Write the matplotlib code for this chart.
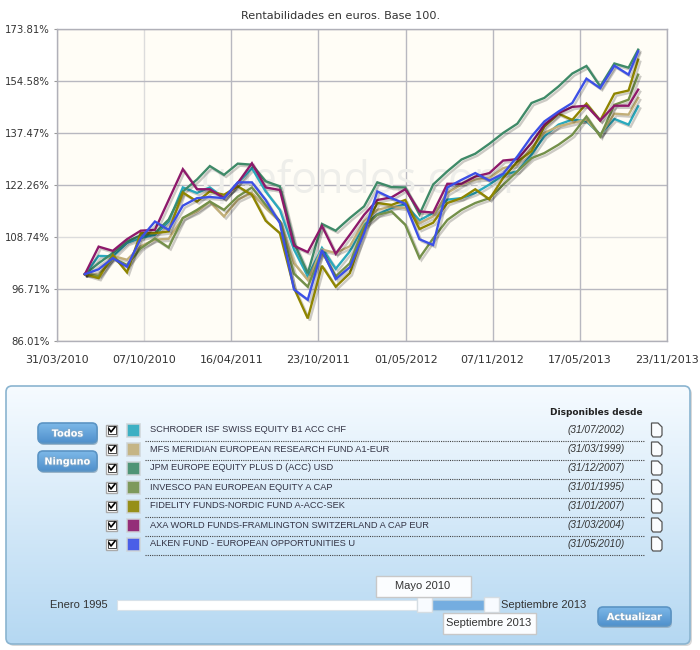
import numpy as np
import pandas as pd
import matplotlib
matplotlib.use('Agg')
import matplotlib.pyplot as plt
import matplotlib.dates as mdates
import matplotlib.patheffects as pe
from matplotlib.patches import FancyBboxPatch, Rectangle, Polygon

# fechas: fin de mes y el ultimo dato a mitad de septiembre
fechas = list(pd.date_range('2010-05-31', periods=40, freq='ME')) + [pd.Timestamp('2013-09-21')]

schroder = [100,104.2,104.1,107.3,108.5,109.3,112.6,121.6,120.1,121.6,118.7,122.8,127.0,120.5,115.6,105.7,99.5,106.1,101.2,105.3,111.8,114.4,116.1,117.0,112.9,114.8,118.3,118.7,120.1,122.4,125.1,126.1,130.9,136.5,140.1,141.7,141.2,137.0,141.9,140.1,146.0]
mfs = [100,99.9,104.2,103.3,106.5,108.1,108.3,113.5,115.2,117.7,113.9,118.3,120.1,116.1,112.6,102.5,98.7,105.7,104.9,106.5,112.6,115.6,116.5,116.1,112.2,113.9,120.1,122.4,123.8,124.2,127.0,128.0,132.9,137.5,139.6,140.6,141.7,136.8,143.6,143.3,148.8]
jpm = [100,102.5,104.9,107.7,109.1,109.7,113.1,120.5,123.8,127.6,125.1,128.3,128.0,123.3,121.9,107.3,100.2,112.0,110.3,113.5,116.5,123.0,121.7,121.6,114.4,122.4,126.1,129.5,131.2,134.2,137.5,140.4,147.1,148.8,152.7,157.2,159.9,152.7,160.8,159.3,165.9]
invesco = [100,99.6,103.7,102.1,106.0,108.4,106.2,113.5,115.6,117.8,115.6,119.1,121.6,116.9,112.6,100.1,97.2,105.2,99.5,102.5,111.3,114.3,115.2,111.8,103.7,108.4,113.0,115.6,117.4,118.7,122.3,126.1,129.9,131.4,133.9,136.9,142.7,136.4,146.5,148.2,156.8]
fidelity = [100,99.1,104.4,100.4,109.7,109.7,110.1,120.2,117.8,120.5,119.6,121.9,119.6,112.8,109.7,96.9,90.5,101.9,97.2,100.2,110.5,117.4,116.9,118.2,110.7,112.3,117.4,118.7,121.1,118.4,124.2,128.9,131.9,139.5,143.6,141.6,146.9,141.4,150.2,151.3,162.2]
axa = [100,106.4,105.4,108.2,110.3,110.5,118.2,126.7,121.1,121.1,118.7,122.8,128.4,121.6,120.9,106.6,105.1,111.5,104.7,109.3,114.3,118.2,118.9,121.1,115.2,114.9,122.6,122.6,124.6,125.6,129.2,129.6,134.4,140.1,143.8,145.8,146.2,141.4,146.2,146.2,151.6]
alken = [100,101.1,103.7,101.7,108.4,112.6,110.5,116.7,118.7,119.0,118.7,123.0,123.0,118.2,112.2,96.6,94.4,105.6,98.9,101.6,109.7,120.5,118.7,117.2,108.2,106.8,121.6,123.7,125.6,123.5,125.4,130.4,136.4,141.1,144.3,147.1,155.4,152.1,160.0,156.8,165.3]

series = [schroder, mfs, jpm, invesco, fidelity, axa, alken]
colores = ['#2aa9bd', '#c2af78', '#3f8a68', '#74904a', '#8f8500', '#8e1a6b', '#3c50e6']
nombres = ['SCHRODER ISF SWISS EQUITY B1 ACC CHF', 'MFS MERIDIAN EUROPEAN RESEARCH FUND A1-EUR',
           'JPM EUROPE EQUITY PLUS D (ACC) USD', 'INVESCO PAN EUROPEAN EQUITY A CAP',
           'FIDELITY FUNDS-NORDIC FUND A-ACC-SEK', 'AXA WORLD FUNDS-FRAMLINGTON SWITZERLAND A CAP EUR',
           'ALKEN FUND - EUROPEAN OPPORTUNITIES U']
desde = ['(31/07/2002)', '(31/03/1999)', '(31/12/2007)', '(31/01/1995)', '(31/01/2007)', '(31/03/2004)', '(31/05/2010)']

yticks = [86.01, 96.71, 108.74, 122.26, 137.47, 154.58, 173.81]
xticks = ['2010-03-31', '2010-10-07', '2011-04-16', '2011-10-23', '2012-05-01', '2012-11-07', '2013-05-17', '2013-11-23']

W, H = 700, 650
fig = plt.figure(figsize=(7, 6.5), dpi=100, facecolor='white')
ax = fig.add_axes([57 / W, 1 - 341 / H, 610 / W, 312 / H], facecolor='#fffdf6')

ax.set_yscale('log')
ax.set_ylim(yticks[0], yticks[-1])
ax.set_xlim(pd.Timestamp(xticks[0]), pd.Timestamp(xticks[-1]))
ax.set_yticks(yticks)
ax.set_yticklabels(['%.2f%%' % v for v in yticks], fontsize=7.3, color='#333333')
ax.minorticks_off()
ax.set_xticks([pd.Timestamp(d) for d in xticks])
ax.xaxis.set_major_formatter(mdates.DateFormatter('%d/%m/%Y'))
ax.tick_params(axis='x', labelsize=8, labelcolor='#333333', length=0, pad=10)
ax.tick_params(axis='y', length=2, color='#999999', pad=3)
ax.grid(True, color='#b8b8c0', lw=1)
ax.set_axisbelow(True)
ax.get_xgridlines()[1].set_color('#dcdcdc')
ax.get_ygridlines()[2].set_color('#dcdcdc')
for s in ax.spines.values():
    s.set_color('#b0b0b8')
    s.set_linewidth(1)

ax.text(0.493, 0.474, 'quefondos.com', transform=ax.transAxes, fontsize=31, color='#eeeeea',
        ha='center', va='baseline', family='Open Sans', zorder=1)

sombra = [pe.SimpleLineShadow(offset=(1.5, -1.5), alpha=0.2, shadow_color='black'), pe.Normal()]
for valores, c in zip(series, colores):
    ax.plot(fechas, valores, color=c, lw=1.7, path_effects=sombra, solid_joinstyle='miter', zorder=3)

ax.set_title('Rentabilidades en euros. Base 100.', fontsize=8.1, color='#333333', pad=7, x=0.465)

# panel de abajo, en pixeles
ui = fig.add_axes([0, 0, 1, 1], facecolor='none')
ui.set_xlim(0, W)
ui.set_ylim(H, 0)
ui.axis('off')


def caja(x0, y0, x1, y1, r, **kw):
    p = FancyBboxPatch((x0 + r, y0 + r), x1 - x0 - 2 * r, y1 - y0 - 2 * r,
                       boxstyle='round,pad=%g,rounding_size=%g' % (r, r), **kw)
    ui.add_patch(p)
    return p


def degradado(x0, y0, x1, y1, r, arriba, abajo, borde, z=2):
    p = caja(x0, y0, x1, y1, r, fc='none', ec=borde, lw=1.2, zorder=z + 1)
    grad = np.linspace(0, 1, 128).reshape(-1, 1)
    cmap = matplotlib.colors.LinearSegmentedColormap.from_list('g', [arriba, abajo])
    im = ui.imshow(grad, extent=(x0, x1, y1, y0), cmap=cmap, aspect='auto', zorder=z)
    im.set_clip_path(p)
    ui.set_xlim(0, W)
    ui.set_ylim(H, 0)


caja(8, 388, 692, 646, 6, fc='#d8d8d8', ec='none', zorder=1)
degradado(6, 386, 690, 644, 6, '#f6fbff', '#b5d8f2', '#8ab4d0')


def boton(x0, y0, x1, y1, txt):
    caja(x0 + 1, y0 + 2, x1 + 1, y1 + 2, 5, fc='#9ab4c8', ec='none', zorder=4)
    degradado(x0, y0, x1, y1, 5, '#7db8e8', '#4f90cc', '#5b94c4', z=5)
    ui.text((x0 + x1) / 2, (y0 + y1) / 2 + 0.5, txt, color='white', fontsize=7, fontweight='bold',
            ha='center', va='center', family='DejaVu Sans', zorder=7,
            path_effects=[pe.withStroke(linewidth=1.2, foreground='#7fa9cc')])


boton(38, 423, 97, 443, 'Todos')
boton(38, 451, 97, 471, 'Ninguno')
boton(598, 607, 671, 626, 'Actualizar')

ui.text(643, 412.5, 'Disponibles desde', fontsize=6.5, fontweight='bold', color='#222222',
        ha='right', va='center', zorder=6)

for i, (nombre, fecha, c) in enumerate(zip(nombres, desde, colores)):
    y = 430 + 19 * i
    # casilla marcada
    ui.add_patch(Rectangle((106, y - 5.5), 11, 11, fc='white', ec='#aaaaaa', lw=1, zorder=5))
    ui.add_patch(Rectangle((107.5, y - 4), 8, 8, fc='none', ec='#444444', lw=0.7, zorder=6))
    ui.plot([109, 111, 115], [y - 1, y + 2, y - 3], color='black', lw=1.2, zorder=7)
    # color de la serie
    ui.add_patch(Rectangle((127, y - 6), 13, 13, fc=c, ec='#cfd5d8', lw=1.2, alpha=0.9, zorder=5))
    ui.text(150, y, nombre, fontsize=6.65, color='#333344', family='Liberation Sans', ha='left', va='center', zorder=6)
    ui.text(625, y, fecha, fontsize=7.2, color='#333333', family='Liberation Sans', style='italic',
            ha='right', va='center', zorder=6)
    ui.plot([145, 645], [y + 10.5, y + 10.5], color='#444444', lw=0.8, ls=(0, (1, 1)), zorder=5)
    # icono de documento
    ui.add_patch(Polygon([(651.5, y - 7), (658, y - 7), (662, y - 3), (662, y + 5), (660.5, y + 7), (653, y + 7), (651.5, y + 5)],
                         closed=True, fc='#fafcfe', ec='#555555', lw=0.9, zorder=6))

# deslizador de fechas
ui.add_patch(Rectangle((117, 600), 300, 10, fc='white', ec='#d8e2ea', lw=0.8, zorder=5))
ui.add_patch(Rectangle((432, 600), 52, 10, fc='#74ade0', ec='#a8c8e0', lw=0.8, zorder=5))
for x0 in (417, 484):
    ui.add_patch(Rectangle((x0, 597), 15, 15, fc='#f8fbff', ec='#d5dde3', lw=1, zorder=6))
ui.add_patch(Rectangle((375.5, 575.5), 95, 21, fc='#fbfdff', ec='#c8c8c8', lw=1, zorder=6))
ui.add_patch(Rectangle((442.5, 612.5), 93, 21, fc='#fbfdff', ec='#c8c8c8', lw=1, zorder=6))
ui.text(423, 586, 'Mayo 2010', fontsize=8, color='#333333', family='Liberation Sans', ha='center', va='center', zorder=7)
ui.text(489, 623, 'Septiembre 2013', fontsize=8, color='#333333', family='Liberation Sans', ha='center', va='center', zorder=7)
ui.text(50, 605, 'Enero 1995', fontsize=8, color='#333333', family='Liberation Sans', ha='left', va='center', zorder=7)
ui.text(501, 605, 'Septiembre 2013', fontsize=8, color='#333333', family='Liberation Sans', ha='left', va='center', zorder=7)

fig.savefig('out.png', dpi=100)
